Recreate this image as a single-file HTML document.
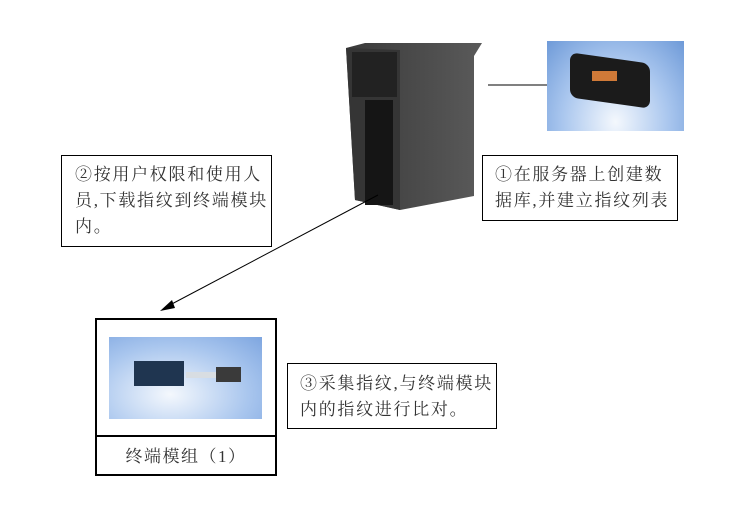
<!DOCTYPE html>
<html><head><meta charset="utf-8"><style>
body{margin:0;width:750px;height:508px;background:#fff;position:relative;overflow:hidden;font-family:"Liberation Serif","Noto Serif CJK SC","Noto Sans CJK SC",serif;color:#333}
.b{position:absolute;border:1px solid #000;box-sizing:border-box;font-size:17px;line-height:26px;letter-spacing:1.7px;white-space:nowrap}
.a{position:absolute}
</style></head><body>
<div class="b" style="left:61px;top:155px;width:211px;height:92px;padding:6px 0 0 13px">②按用户权限和使用人<br>员,下载指纹到终端模块<br>内。</div>
<div class="b" style="left:482px;top:155px;width:196px;height:66px;padding:6px 0 0 12px">①在服务器上创建数<br>据库,并建立指纹列表</div>
<div class="b" style="left:287px;top:363px;width:210px;height:66px;padding:7px 0 0 12px">③采集指纹,与终端模块<br>内的指纹进行比对。</div>
<div class="a" style="left:95px;top:318px;width:182px;height:158px;border:2px solid #000;box-sizing:border-box"></div>
<div class="a" style="left:95px;top:435px;width:182px;height:2px;background:#000"></div>
<div class="a" style="left:95px;top:437px;width:182px;height:39px;text-align:center;line-height:39px;font-size:17px;letter-spacing:1.5px">终端模组（1）</div>
<div class="a" style="left:109px;top:337px;width:153px;height:82px;background:radial-gradient(ellipse at 40% 70%,#f4f8fd,#a9c6ee 60%,#7ea6e0)"></div>
<div class="a" style="left:134px;top:361px;width:50px;height:25px;background:#1f3550"></div>
<div class="a" style="left:186px;top:372px;width:32px;height:6px;background:#d8dde2"></div>
<div class="a" style="left:216px;top:367px;width:25px;height:15px;background:#3a3a3a"></div>
<div class="a" style="left:547px;top:41px;width:137px;height:90px;background:radial-gradient(ellipse at 50% 90%,#f4f8fd,#a9c6ee 55%,#6e9ad8)"></div>
<div class="a" style="left:570px;top:58px;width:80px;height:45px;background:#1b1b1b;border-radius:8px;transform:skewY(8deg)"></div>
<div class="a" style="left:592px;top:71px;width:25px;height:10px;background:#d07a38"></div>
<svg class="a" style="left:0;top:0" width="750" height="508">
<defs><linearGradient id="g" x1="0" x2="1"><stop offset="0" stop-color="#3a3a3a"/><stop offset="1" stop-color="#5a5a5a"/></linearGradient></defs>
<polygon points="346,48 365,43 482,43 474,56 474,196 400,210 355,200" fill="url(#g)"/>
<polygon points="346,48 400,50 400,210 355,200" fill="#353535"/>
<rect x="352" y="52" width="45" height="45" fill="#222"/>
<rect x="365" y="100" width="28" height="105" fill="#151515"/>
<line x1="488" y1="85" x2="547" y2="85" stroke="#000"/>
<line x1="378" y1="195" x2="168" y2="306" stroke="#000"/>
<polygon points="160,311 172,300 175,308" fill="#000"/>
</svg>
</body></html>
